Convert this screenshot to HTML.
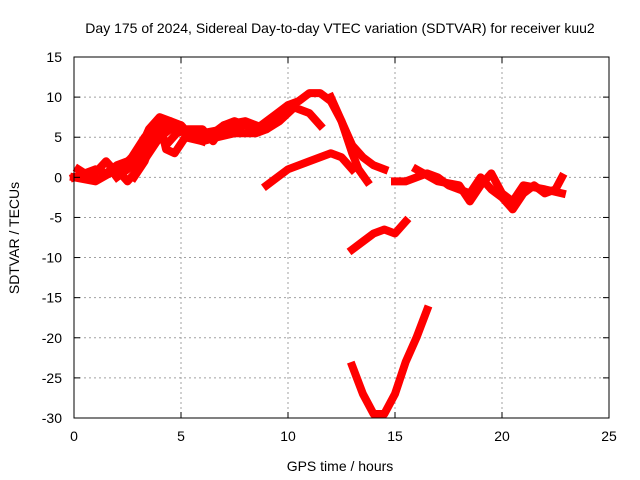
<!DOCTYPE html>
<html><head><meta charset="utf-8"><style>
body{margin:0;background:#fff}
svg{display:block;font-family:"Liberation Sans",sans-serif;font-size:14px}
</style></head><body>
<svg id="c" width="640" height="480">
<text x="340" y="33" text-anchor="middle">Day 175 of 2024, Sidereal Day-to-day VTEC variation (SDTVAR) for receiver kuu2</text>
<text x="340" y="471" text-anchor="middle">GPS time / hours</text>
<text transform="translate(19,238) rotate(-90)" text-anchor="middle">SDTVAR / TECUs</text>
<g id="grid"></g><g id="series"></g>
<rect x="74" y="57" width="535" height="361" fill="none" stroke="#000"/>
<g id="ticks"></g>
</svg>
<script>
const xTicks=[0,5,10,15,20,25];
const yTicks=[15,10,5,0,-5,-10,-15,-20,-25,-30];
const seriesA=[[0,0],[0.5,0.5],[1,1],[1.5,0.5],[2,1.5],[2.5,2],[3,3],[3.5,6],[4,7.5],[4.5,7],[5,6],[5.5,5.5],[6,5],[6.5,5.5],[7,6.5],[7.5,7],[8,6.5],[8.5,6],[9,7],[9.5,8],[10,9],[10.5,9.5],[11,10.5],[11.5,10.5],[12,9.5],[12.5,7],[13,4],[13.5,2.5],[14,1.5],[14.5,1]];
const seriesB=[[0,0],[1,-0.5],[2,1],[2.5,-0.5],[3,1],[3.5,3],[4,5],[4.5,6],[5,6.5],[5.5,5],[6,5.5],[7,6],[8,6.5],[9,6],[9.5,7.5],[10,9],[10.5,8.5],[11,8],[11.5,6.5]];
const seriesC=[[2,0],[2.5,1],[3,2],[3.5,4],[4,6],[4.5,7],[5,6.5],[5.5,5],[6,4.5]];
const seriesD=[[12,10],[12.5,7],[13,3],[13.3,1],[13.7,-0.5]];
const seriesE=[[9,-1],[9.5,0],[10,1],[11,2],[12,3],[12.5,2.5],[13,1]];
const seriesF=[[13,-9],[13.5,-8],[14,-7],[14.5,-6.5],[15,-7],[15.5,-5.5]];
const seriesG=[[13,-23.5],[13.5,-27],[14,-29.5],[14.5,-29.5],[15,-27],[15.5,-23],[16,-20],[16.5,-16.5]];
const seriesH=[[15,-0.5],[15.5,-0.5],[16,0],[16.5,0.5],[17,0],[17.5,-1],[18,-1.5],[18.5,-2],[19,0],[19.5,-1.5],[20,-2.5],[20.5,-4],[21,-2],[21.5,-1],[22,-2],[22.5,-1.5],[22.8,0]];
const seriesI=[[16,1],[17,-0.5],[18,-1],[18.5,-3],[19,-1],[19.5,0.5],[20,-2],[20.5,-3],[21,-1],[22,-1.5],[22.8,-2]];
const seriesJ=[[0.2,1],[0.8,0],[1.5,2],[2,0.5],[2.7,2.5],[3.3,5],[3.8,6.5],[4.3,4],[4.8,5.5],[5.3,6],[6,6],[6.5,4.5],[7,6.5],[8,7],[8.5,6.5]];
const seriesK=[[2.8,0],[3.3,2],[3.7,5],[4,7],[4.3,3.5],[4.7,3],[5.2,5],[6,4.5],[6.7,5],[7.5,5.5],[8.5,5.5],[9,6],[9.6,7],[10.2,8.5]];
const allSeries=[seriesA,seriesB,seriesC,seriesD,seriesE,seriesF,seriesG,seriesH,seriesI,seriesJ,seriesK];
const X=v=>74+v*535/25, Y=v=>57+(15-v)*361/45;
const NS="http://www.w3.org/2000/svg";
function mk(t,p,parent){const e=document.createElementNS(NS,t);for(const k in p)e.setAttribute(k,p[k]);document.getElementById(parent).appendChild(e);return e;}
xTicks.forEach(t=>{
 if(t>0&&t<25){const g=mk('line',{x1:X(t),x2:X(t),y1:57,y2:418,stroke:'#a0a0a0','stroke-dasharray':'2,3'},'grid');
 
 }
 const l=mk('text',{x:X(t),y:441,'text-anchor':'middle'},'ticks');l.textContent=t;
 
 
 mk('line',{x1:X(t),x2:X(t),y1:418,y2:412,stroke:'#000'},'ticks');
 mk('line',{x1:X(t),x2:X(t),y1:57,y2:63,stroke:'#000'},'ticks');
});
yTicks.forEach(t=>{
 if(t<15&&t>-30){const g=mk('line',{x1:74,x2:609,y1:Y(t),y2:Y(t),stroke:'#a0a0a0','stroke-dasharray':'2,3'},'grid');
 
 }
 const l=mk('text',{x:62,y:Y(t)+5,'text-anchor':'end'},'ticks');l.textContent=t;
 
 
 mk('line',{x1:74,x2:80,y1:Y(t),y2:Y(t),stroke:'#000'},'ticks');
 mk('line',{x1:609,x2:603,y1:Y(t),y2:Y(t),stroke:'#000'},'ticks');
});
allSeries.forEach((s,i)=>{
 const p=mk('polyline',{points:s.map(d=>X(d[0])+','+Y(d[1])).join(' '),fill:'none',stroke:'#f00','stroke-width':8,'stroke-linejoin':'round','stroke-linecap':'square'},'series');
 
 
});
</script>
</body></html>
